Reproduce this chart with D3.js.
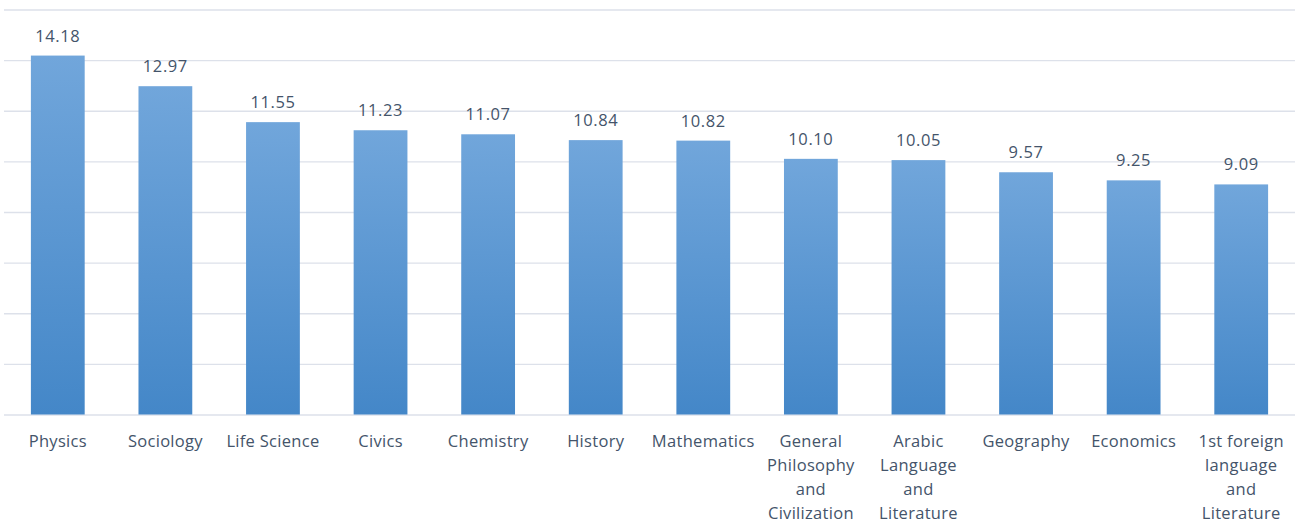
<!DOCTYPE html>
<html>
<head>
<meta charset="utf-8">
<script src="https://cdn.jsdelivr.net/npm/d3@7"></script>
<style>
  html, body { margin: 0; padding: 0; background: #fff; }
  svg { display: block; }
  text { font-family: "Open Sans", "Liberation Sans", sans-serif; fill: #44546a; }
</style>
</head>
<body>
<svg id="chart" width="1298" height="524"></svg>
<script>
// Subjects (line breaks mark how each label wraps under its bar)
const categories = [
  "Physics", "Sociology", "Life Science", "Civics", "Chemistry", "History",
  "Mathematics", "General\nPhilosophy\nand\nCivilization", "Arabic\nLanguage\nand\nLiterature",
  "Geography", "Economics", "1st foreign\nlanguage\nand\nLiterature"
];
const values = [14.18, 12.97, 11.55, 11.23, 11.07, 10.84, 10.82, 10.10, 10.05, 9.57, 9.25, 9.09];
const gridTicks = [0, 2, 4, 6, 8, 10, 12, 14, 16];

const svg = d3.select("#chart");
const plotLeft = 4, plotRight = 1295, plotTop = 9.5, plotBottom = 414.5;

const x = d3.scaleBand().domain(categories).range([plotLeft, plotRight]).paddingInner(0.5).paddingOuter(0.25);
const y = d3.scaleLinear().domain([0, 16]).range([plotBottom, plotTop]);

// Vertical gradient used by every bar
const defs = svg.append("defs");
const grad = defs.append("linearGradient").attr("id", "barFill")
  .attr("x1", 0).attr("y1", 0).attr("x2", 0).attr("y2", 1);
grad.append("stop").attr("offset", "0%").attr("stop-color", "#71a6db");
grad.append("stop").attr("offset", "100%").attr("stop-color", "#4487c8");

// Horizontal gridlines
const yAxis = d3.axisLeft(y).tickValues(gridTicks).tickSize(-(plotRight - plotLeft)).tickFormat("");
const ga = svg.append("g").attr("transform", `translate(${plotLeft},0)`).call(yAxis);
ga.select(".domain").remove();
ga.selectAll(".tick line").attr("stroke", "#dde1ea").attr("stroke-width", 1.3);

// Bars
svg.append("g").selectAll("rect").data(values).join("rect")
  .attr("x", (d, i) => x(categories[i]))
  .attr("width", x.bandwidth())
  .attr("y", d => y(d))
  .attr("height", d => y(0) - y(d))
  .attr("fill", "url(#barFill)");

// Value labels
svg.append("g").selectAll("text").data(values).join("text")
  .attr("x", (d, i) => x(categories[i]) + x.bandwidth() / 2)
  .attr("y", d => y(d) - 14)
  .attr("text-anchor", "middle")
  .attr("font-size", 16.5)
  .attr("letter-spacing", 0.6)
  .text(d => d.toFixed(2));

// Category labels along the baseline
const xAxis = d3.axisBottom(x).tickSize(0).tickFormat("");
const gx = svg.append("g").attr("transform", `translate(0,${plotBottom})`).call(xAxis);
gx.select(".domain").remove();
gx.selectAll(".tick").each(function(d) {
  const t = d3.select(this).append("text")
    .attr("text-anchor", "middle")
    .attr("font-size", 16.5)
    .attr("letter-spacing", 0.3)
    .attr("y", 32.5);
  d.split("\n").forEach((line, i) => {
    t.append("tspan").attr("x", 0).attr("dy", i === 0 ? 0 : 24).text(line);
  });
});
</script>
</body>
</html>
